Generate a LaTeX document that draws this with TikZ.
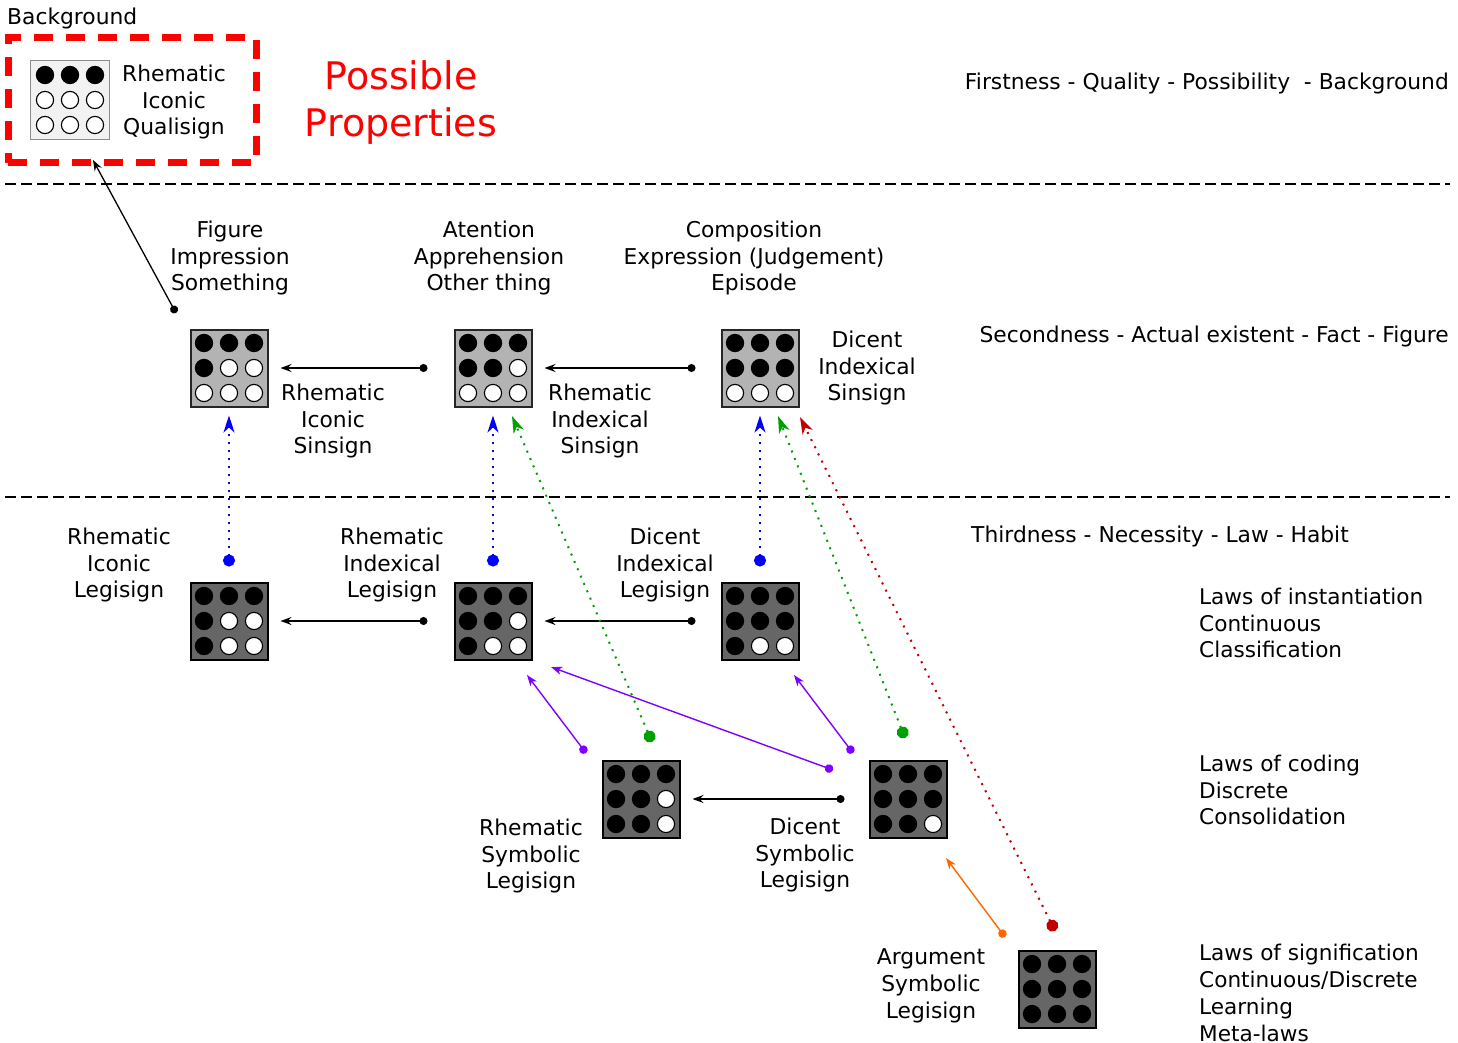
\documentclass[tikz,border=0pt]{standalone}
\usepackage{fontspec}
\setmainfont{DejaVu Sans}
\usetikzlibrary{arrows.meta}

\definecolor{qfill}{HTML}{F2F2F2}
\definecolor{sfill}{HTML}{B3B3B3}
\definecolor{lfill}{HTML}{666666}
\definecolor{pblue}{HTML}{0000FF}
\definecolor{pgreen}{HTML}{00A000}
\definecolor{pred}{HTML}{C00000}
\definecolor{ppurple}{HTML}{7F00FF}
\definecolor{porange}{HTML}{FF6600}

% a sign box: name, centre, box style, fills of the nine dots (row by row)
\newcommand{\signbox}[4]{%
  \node[#3] (#1) at (#2) {};
  \foreach \fc [count=\i from 0] in {#4} {%
    \pgfmathtruncatemacro\cc{mod(\i,3)}%
    \pgfmathtruncatemacro\rr{div(\i,3)}%
    \draw[dotrim, fill=\fc] ([shift={(\cc*25-25,\rr*25-25)}]#1.center) circle[radius=8.6];
  }%
}

\tikzset{
  qbox/.style={rectangle, draw=black!45, line width=1pt, fill=qfill, minimum size=79pt, inner sep=0},
  sbox/.style={rectangle, draw=black!85, line width=2pt, fill=sfill, minimum size=77pt, inner sep=0},
  lbox/.style={rectangle, draw=black, line width=2pt, fill=lfill, minimum size=77pt, inner sep=0},
  dotrim/.style={draw=black, line width=1.1pt},
  lbl/.style={font=\fontsize{21.8}{26.8}\selectfont, align=center, inner sep=0},
  lbll/.style={font=\fontsize{21.6}{26.8}\selectfont, align=left, inner sep=0, anchor=west},
  lblr/.style={font=\fontsize{21.8}{26.8}\selectfont, align=right, inner sep=0, anchor=east},
  big/.style={font=\fontsize{38}{47}\selectfont, align=center, inner sep=0, text=red},
  hdash/.style={line width=1.1pt, dash pattern=on 11pt off 5pt},
  blackarrow/.style={line width=1.3pt, arrows={Circle[length=8pt]-Stealth[length=11pt,width=8pt,inset=4pt]}},
  dotarrow/.style={line width=2pt, dash pattern=on 2pt off 6pt, draw=#1,
    arrows={Circle[length=12pt]-Stealth[length=17pt,width=11pt,inset=5pt]}},
  thinarrow/.style={line width=1.4pt, draw=#1,
    arrows={Circle[length=8.5pt]-Stealth[length=11pt,width=8pt,inset=3pt]}},
}

\begin{document}
\begin{tikzpicture}[x=1pt, y=-1pt]
\useasboundingbox (0,0) rectangle (1458,1043);

% separators between the three categories
\draw[hdash] (5,184) -- (1450,184);
\draw[hdash] (5,497) -- (1450,497);

% background frame with the qualisign
\node[draw=red, line width=7pt, dash pattern=on 19pt off 13pt, minimum width=248pt, minimum height=125pt, inner sep=0] (bgframe) at (132,100.5) {};
\node[lbl, anchor=west] (bgtitle) at (7,18) {Background};
\signbox{qs}{70,100}{qbox}{black,black,black,white,white,white,white,white,white}
\node[lbl] (qslbl) at (174,102) {Rhematic\\Iconic\\Qualisign};
\node[big] (props) at (401,102.5) {Possible\\Properties};

% second row: sinsigns
\signbox{ris}{229,368}{sbox}{black,black,black,black,white,white,white,white,white}
\signbox{rxs}{493,368}{sbox}{black,black,black,black,black,white,white,white,white}
\signbox{dxs}{760,368}{sbox}{black,black,black,black,black,black,white,white,white}

% third row: legisigns
\signbox{ril}{229,621}{lbox}{black,black,black,black,white,white,black,white,white}
\signbox{rxl}{493,621}{lbox}{black,black,black,black,black,white,black,white,white}
\signbox{dxl}{760,621}{lbox}{black,black,black,black,black,black,black,white,white}
\signbox{rsl}{641,799}{lbox}{black,black,black,black,black,white,black,black,white}
\signbox{dsl}{908,799}{lbox}{black,black,black,black,black,black,black,black,white}
\signbox{asl}{1057,989}{lbox}{black,black,black,black,black,black,black,black,black}

% labels
\node[lbl] (t1) at (230,258) {Figure\\Impression\\Something};
\node[lbl] (t2) at (489,258) {Atention\\Apprehension\\Other thing};
\node[lbl] (t3) at (754,258) {Composition\\Expression (Judgement)\\Episode};
\node[lbl] (risl) at (333,421) {Rhematic\\Iconic\\Sinsign};
\node[lbl] (rxsl) at (600,421) {Rhematic\\Indexical\\Sinsign};
\node[lbl] (dxsl) at (867,368) {Dicent\\Indexical\\Sinsign};
\node[lbl] (rill) at (119,565) {Rhematic\\Iconic\\Legisign};
\node[lbl] (rxll) at (392,565) {Rhematic\\Indexical\\Legisign};
\node[lbl] (dxll) at (665,565) {Dicent\\Indexical\\Legisign};
\node[lbl] (rsll) at (531,856) {Rhematic\\Symbolic\\Legisign};
\node[lbl] (dsll) at (805,855) {Dicent\\Symbolic\\Legisign};
\node[lbl] (asll) at (931,986) {Argument\\Symbolic\\Legisign};

\node[lblr] (first) at (1449,83) {Firstness - Quality - Possibility\ \ - Background};
\node[lblr] (second) at (1449,336) {Secondness - Actual existent - Fact - Figure};
\node[lblr] (third) at (1349,536) {Thirdness - Necessity - Law - Habit};
\node[lbll] (inst) at (1199,623) {Laws of instantiation\\Continuous\\Classification};
\node[lbll] (coding) at (1199,790) {Laws of coding\\Discrete\\Consolidation};
\node[lbll] (signif) at (1199,993) {Laws of signification\\Continuous/Discrete\\Learning\\Meta-laws};

% connector ends
\coordinate (figdot) at (176,313);
\coordinate (bgin) at (93,160);
\coordinate (g1s) at (652,742);  \coordinate (g1e) at (512,416);
\coordinate (g2s) at (905,738);  \coordinate (g2e) at (778,416);
\coordinate (r1s) at (1055,931); \coordinate (r1e) at (800,417);
\coordinate (p1s) at (586,753);  \coordinate (p1e) at (527,675);
\coordinate (p2s) at (833,770);  \coordinate (p2e) at (551,667);
\coordinate (p3s) at (853,753);  \coordinate (p3e) at (794,675);
\coordinate (o1s) at (1005,937); \coordinate (o1e) at (946,858);

% horizontal black connectors
\draw[blackarrow, shorten <=26pt, shorten >=12pt] (rxs.west) -- (ris.east);
\draw[blackarrow, shorten <=25pt, shorten >=12pt] (dxs.west) -- (rxs.east);
\draw[blackarrow, shorten <=26pt, shorten >=12pt] (rxl.west) -- (ril.east);
\draw[blackarrow, shorten <=25pt, shorten >=12pt] (dxl.west) -- (rxl.east);
\draw[blackarrow, shorten <=24pt, shorten >=12pt] (dsl.west) -- (rsl.east);
\draw[blackarrow] (figdot) -- (bgin);

% vertical blue dotted connectors
\draw[dotarrow=pblue, shorten <=15pt, shorten >=8pt] (ril.north) -- (ris.south);
\draw[dotarrow=pblue, shorten <=15pt, shorten >=8pt] (rxl.north) -- (rxs.south);
\draw[dotarrow=pblue, shorten <=15pt, shorten >=8pt] (dxl.north) -- (dxs.south);

% diagonal dotted connectors
\draw[dotarrow=pgreen] (g1s) -- (g1e);
\draw[dotarrow=pgreen] (g2s) -- (g2e);
\draw[dotarrow=pred] (r1s) -- (r1e);

% purple and orange connectors
\draw[thinarrow=ppurple] (p1s) -- (p1e);
\draw[thinarrow=ppurple] (p2s) -- (p2e);
\draw[thinarrow=ppurple] (p3s) -- (p3e);
\draw[thinarrow=porange] (o1s) -- (o1e);
\end{tikzpicture}
\end{document}
